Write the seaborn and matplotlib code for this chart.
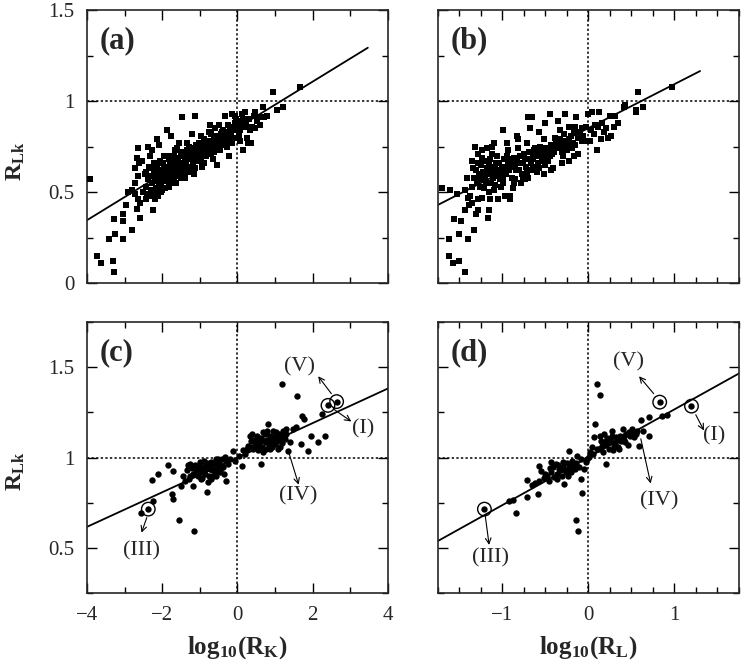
import numpy as np
import pandas as pd
import matplotlib
matplotlib.use("Agg")
import matplotlib.pyplot as plt
import seaborn as sns
from matplotlib.ticker import MultipleLocator, FixedLocator, FixedFormatter

# ---- data ---------------------------------------------------------------
# panel (a): log10(R_K) vs R_Lk, squares
a_pts = [
    (-3.93, 0.57), (-3.74, 0.15), (-3.64, 0.11), (-3.30, 0.12), (-3.28, 0.06), (-3.42, 0.24),
    (-3.26, 0.27), (-3.03, 0.24), (-2.81, 0.29), (-3.28, 0.35), (-3.05, 0.34), (-3.03, 0.38),
    (-2.97, 0.43), (-2.59, 0.36), (-2.68, 0.41), (-2.24, 0.40),
    (-2.90, 0.50), (-2.81, 0.51), (-2.73, 0.49), (-2.65, 0.46), (-2.59, 0.44), (-2.50, 0.50),
    (-2.42, 0.46), (-2.28, 0.48), (-2.19, 0.46), (-2.12, 0.48), (-2.04, 0.50), (-1.93, 0.52),
    (-2.73, 0.55), (-2.64, 0.59), (-2.71, 0.63), (-2.62, 0.66), (-2.68, 0.69), (-2.64, 0.74),
    (-2.37, 0.75), (-2.28, 0.73), (-2.09, 0.76), (-2.33, 0.70), (-2.53, 0.67), (-2.44, 0.61),
    (-2.35, 0.59), (-2.27, 0.63), (-2.22, 0.66), (-2.18, 0.59), (-2.13, 0.56), (-2.09, 0.53),
    (-2.00, 0.61), (-1.91, 0.64), (-1.87, 0.59), (-1.82, 0.68), (-1.73, 0.64), (-1.69, 0.70),
    (-1.65, 0.73), (-1.60, 0.67), (-1.56, 0.63), (-1.47, 0.70), (-1.42, 0.64), (-1.38, 0.58),
    (-1.34, 0.73), (-1.29, 0.75), (-1.20, 0.71), (-1.16, 0.67), (-1.12, 0.63), (-1.07, 0.74),
    (-1.03, 0.77), (-0.98, 0.81), (-0.94, 0.72), (-0.89, 0.66), (-0.85, 0.74), (-0.81, 0.78),
    (-0.76, 0.83), (-0.72, 0.87), (-0.67, 0.74), (-0.63, 0.72), (-0.58, 0.81), (-0.54, 0.65),
    (-0.50, 0.87), (-0.45, 0.77), (-0.41, 0.83), (-0.36, 0.79), (-0.32, 0.92), (-0.27, 0.75),
    (-0.23, 0.70), (-0.19, 0.85), (-0.14, 0.93), (-0.10, 0.80), (-0.05, 0.88), (0.04, 0.86),
    (0.08, 0.78), (0.12, 0.93), (0.17, 0.86), (0.21, 0.94), (0.26, 0.80), (0.30, 0.90),
    (0.35, 0.77), (0.39, 0.86), (0.43, 0.92), (0.48, 0.85), (0.57, 0.91), (0.70, 0.91),
    (0.68, 0.97), (0.96, 1.05), (1.06, 0.95), (1.21, 0.97), (-1.47, 0.91), (-1.12, 0.92),
    (-1.77, 0.81), (-1.88, 0.84), (-1.22, 0.82), (-2.15, 0.79), (1.66, 1.08),
    (0.15, 0.73), (0.28, 0.77), (0.41, 0.85), (0.04, 0.81), (-0.07, 0.92), (0.20, 0.94),
    (0.47, 0.94), (0.62, 0.91), (0.78, 0.92),
    (-2.42, 0.53), (-2.38, 0.57), (-2.45, 0.60), (-2.31, 0.51), (-2.26, 0.55), (-2.34, 0.64),
    (-2.21, 0.62), (-2.16, 0.52), (-2.11, 0.57), (-2.14, 0.65), (-2.06, 0.60), (-2.02, 0.55),
    (-1.98, 0.66), (-1.96, 0.58), (-1.94, 0.70), (-1.89, 0.56), (-1.85, 0.62), (-1.80, 0.65),
    (-1.78, 0.58), (-1.76, 0.61), (-1.71, 0.67), (-1.67, 0.60), (-1.63, 0.64), (-1.58, 0.69),
    (-1.55, 0.61), (-1.52, 0.66), (-1.49, 0.72), (-1.45, 0.62), (-1.40, 0.68), (-1.37, 0.66),
    (-1.33, 0.70), (-1.30, 0.64), (-1.27, 0.68), (-1.24, 0.72), (-1.19, 0.66), (-1.15, 0.74),
    (-1.10, 0.69), (-1.06, 0.71), (-1.02, 0.67), (-0.99, 0.74), (-0.96, 0.69), (-0.92, 0.76),
    (-0.88, 0.72), (-0.84, 0.70), (-0.80, 0.75), (-0.77, 0.73), (-0.73, 0.78), (-0.70, 0.71),
    (-0.66, 0.77), (-0.62, 0.80), (-0.59, 0.75), (-0.56, 0.78), (-0.52, 0.74), (-0.48, 0.80),
    (-0.44, 0.82), (-0.40, 0.76), (-0.37, 0.84), (-0.33, 0.80), (-0.29, 0.83), (-0.25, 0.87),
    (-0.21, 0.79), (-0.17, 0.82), (-0.12, 0.86), (-0.08, 0.84), (-0.03, 0.90), (0.02, 0.89),
    (0.07, 0.84), (0.11, 0.88), (0.16, 0.90), (0.23, 0.87), (0.33, 0.84), (0.52, 0.89),
    (0.60, 0.87),
    (-2.40, 0.49), (-2.30, 0.59), (-2.20, 0.50), (-2.10, 0.62), (-2.00, 0.51), (-1.90, 0.60),
    (-1.83, 0.53), (-1.75, 0.55), (-1.68, 0.57), (-1.62, 0.55), (-1.57, 0.59), (-1.50, 0.58),
    (-1.43, 0.60), (-1.35, 0.62), (-1.25, 0.61), (-1.70, 0.62), (-1.95, 0.63), (-2.05, 0.67),
    (-1.80, 0.70), (-1.60, 0.74), (-1.55, 0.77), (-1.35, 0.77), (-1.10, 0.76), (-0.90, 0.79),
    (-0.70, 0.82), (-0.60, 0.85), (-0.45, 0.73), (-0.30, 0.76), (-0.15, 0.77), (-0.65, 0.68),
    (-0.95, 0.64), (-1.15, 0.60),
]

# panel (b): log10(R_L) vs R_Lk, squares
b_pts = [
    (-1.62, 0.15), (-1.57, 0.11), (-1.51, 0.12), (-1.44, 0.06), (-1.62, 0.24), (-1.50, 0.27),
    (-1.40, 0.24), (-1.33, 0.29), (-1.56, 0.35), (-1.48, 0.34), (-1.43, 0.40), (-1.39, 0.43),
    (-1.31, 0.38), (-1.16, 0.40), (-1.17, 0.36), (-1.29, 0.40),
    (-1.70, 0.52), (-1.61, 0.51), (-1.53, 0.49), (-1.44, 0.51), (-1.40, 0.47), (-1.36, 0.44),
    (-1.38, 0.48), (-1.28, 0.46), (-1.24, 0.47), (-1.16, 0.50), (-1.14, 0.46), (-1.10, 0.51),
    (-1.05, 0.46), (-0.97, 0.48), (-0.91, 0.46), (-1.41, 0.575), (-1.34, 0.63), (-1.36, 0.67),
    (-1.32, 0.75), (-1.24, 0.73), (-1.18, 0.74), (-1.10, 0.77), (-0.99, 0.84), (-0.83, 0.81),
    (-0.70, 0.91), (-0.66, 0.91), (-0.45, 0.93), (-0.27, 0.93), (-0.14, 0.91), (0.00, 0.93),
    (0.04, 0.94), (0.12, 0.94), (0.25, 0.92), (0.31, 0.92), (0.43, 0.98), (0.58, 1.05),
    (0.56, 0.95), (0.64, 0.97), (0.23, 0.80), (0.26, 0.81), (0.15, 0.79), (0.10, 0.73),
    (0.02, 0.78), (-0.08, 0.78), (-0.17, 0.70), (-0.31, 0.66), (-0.43, 0.62), (-0.52, 0.60),
    (-0.64, 0.64), (-0.76, 0.575), (-0.87, 0.55), (-0.91, 0.48), (0.97, 1.08), (0.41, 0.97),
    (0.55, 0.94),
    (-1.12, 0.75), (-0.82, 0.79), (-0.68, 0.85), (-0.58, 0.83), (-0.50, 0.88), (-0.35, 0.89),
    (-0.33, 0.84), (-0.23, 0.86), (-0.17, 0.83), (-0.08, 0.85), (0.08, 0.87), (0.16, 0.88),
    (0.21, 0.85), (-0.12, 0.71), (-0.19, 0.74), (-0.23, 0.67), (-0.29, 0.70), (-0.41, 0.63),
    (-0.50, 0.65),
    (-1.30, 0.55), (-1.27, 0.60), (-1.25, 0.65), (-1.22, 0.52), (-1.20, 0.58), (-1.18, 0.63),
    (-1.15, 0.68), (-1.13, 0.55), (-1.10, 0.61), (-1.08, 0.66), (-1.06, 0.70), (-1.03, 0.57),
    (-1.00, 0.63), (-0.98, 0.68), (-0.96, 0.60), (-0.93, 0.73), (-0.91, 0.65), (-0.89, 0.58),
    (-0.86, 0.69), (-0.84, 0.62), (-0.82, 0.74), (-0.80, 0.66), (-0.77, 0.60), (-0.75, 0.71),
    (-0.73, 0.64), (-0.71, 0.77), (-0.68, 0.68), (-0.66, 0.62), (-0.63, 0.73), (-0.61, 0.70),
    (-0.59, 0.66), (-0.56, 0.75), (-0.54, 0.69), (-0.52, 0.79), (-0.49, 0.72), (-0.47, 0.67),
    (-0.44, 0.76), (-0.42, 0.71), (-0.39, 0.80), (-0.37, 0.74), (-0.34, 0.77), (-0.31, 0.72),
    (-0.28, 0.82), (-0.26, 0.76), (-0.23, 0.79), (-0.20, 0.81), (-0.18, 0.77), (-0.15, 0.86),
    (-0.12, 0.80), (-0.10, 0.83), (-0.06, 0.81), (-0.03, 0.86), (0.03, 0.84), (0.07, 0.82),
    (0.11, 0.86), (0.18, 0.83), (0.30, 0.86), (0.35, 0.88), (-1.24, 0.69), (-1.12, 0.71),
    (-1.02, 0.53), (-0.95, 0.77), (-0.88, 0.52), (-0.78, 0.55), (-0.70, 0.58), (-0.60, 0.61),
    (-0.57, 0.63), (-1.28, 0.71), (-1.16, 0.65), (-1.05, 0.62), (-0.94, 0.67), (-0.85, 0.65),
    (-0.74, 0.68), (-0.65, 0.70), (-0.55, 0.72), (-0.45, 0.70), (-0.35, 0.74), (-0.25, 0.73),
    (-0.15, 0.76), (-0.05, 0.78),
    (-1.33, 0.58), (-1.31, 0.62), (-1.29, 0.66), (-1.26, 0.57), (-1.23, 0.61), (-1.21, 0.67),
    (-1.19, 0.55), (-1.17, 0.60), (-1.14, 0.63), (-1.11, 0.58), (-1.09, 0.64), (-1.07, 0.59),
    (-1.04, 0.66), (-1.01, 0.60), (-0.99, 0.58), (-0.97, 0.64), (-0.95, 0.70), (-0.92, 0.62),
    (-0.90, 0.68), (-0.87, 0.64), (-0.83, 0.67), (-0.81, 0.62), (-0.79, 0.70), (-0.76, 0.66),
    (-0.72, 0.61), (-0.69, 0.72), (-0.67, 0.66), (-0.64, 0.68), (-0.62, 0.74), (-0.58, 0.71),
    (-0.53, 0.67), (-0.51, 0.74), (-0.48, 0.69), (-0.43, 0.74), (-0.40, 0.72), (-0.38, 0.77),
    (-0.33, 0.79), (-0.30, 0.75), (-0.27, 0.78), (-0.21, 0.76), (-1.35, 0.53), (-1.26, 0.53),
    (-1.09, 0.54), (-0.99, 0.55), (-0.85, 0.57), (-0.74, 0.57),
]

# panel (c): log10(R_K) vs R_Lk, dots
c_pts = [
    (-2.57, 0.696), (-2.37, 0.715), (-2.24, 0.761), (-2.28, 0.876), (-2.10, 0.909), (-1.84, 0.961),
    (-1.71, 0.928), (-1.75, 0.798), (-1.71, 0.770), (-1.55, 0.656), (-1.16, 0.594), (-1.51, 0.844),
    (-1.39, 0.872), (-1.26, 0.900), (-1.26, 0.965), (-1.17, 0.844), (-1.08, 0.946), (-1.00, 0.974),
    (-0.95, 0.919), (-0.86, 0.956), (-0.80, 0.811), (-0.78, 0.863), (-0.73, 0.937), (-0.69, 0.974),
    (-0.64, 0.900), (-0.55, 0.946), (-0.51, 0.993), (-0.47, 0.919), (-0.42, 0.956), (-0.33, 1.002),
    (-0.31, 0.872), (-0.24, 0.965), (-0.11, 1.039), (-0.07, 0.983), (0.11, 0.956), (0.20, 1.020),
    (0.29, 1.067), (0.33, 1.122), (0.42, 1.048), (0.47, 1.085), (0.55, 1.104), (0.60, 1.057),
    (0.64, 0.965), (0.69, 1.030), (0.78, 1.150), (0.78, 1.085), (0.82, 1.187), (0.86, 1.048),
    (0.95, 1.113), (1.00, 1.076), (1.04, 1.141), (1.13, 1.057), (1.22, 1.150), (1.26, 1.104),
    (1.29, 1.159), (1.35, 1.039), (1.40, 1.085), (1.48, 1.159), (1.57, 1.169), (1.70, 1.076),
    (1.88, 1.039), (1.97, 1.122), (2.15, 1.085), (2.32, 1.122), (1.20, 1.406), (1.59, 1.340),
    (1.73, 1.233), (1.77, 1.215), (2.24, 1.243), (2.41, 1.289), (2.64, 1.310),
    (-1.45, 0.90), (-1.35, 0.93), (-1.30, 0.88), (-1.22, 0.94), (-1.18, 0.91), (-1.12, 0.96),
    (-1.05, 0.90), (-1.02, 0.93), (-0.97, 0.95), (-0.93, 0.89), (-0.90, 0.93), (-0.85, 0.91),
    (-0.82, 0.97), (-0.79, 0.94), (-0.75, 0.90), (-0.71, 0.96), (-0.67, 0.93), (-0.62, 0.97),
    (-0.60, 0.92), (-0.57, 0.99), (-0.53, 0.95), (-0.49, 0.97), (-0.45, 0.93), (-0.40, 0.99),
    (-0.38, 0.95), (-0.29, 0.98), (-0.20, 0.99), (-0.88, 0.98), (-0.98, 0.88), (-1.10, 0.92),
    (-0.70, 0.88), (-0.58, 0.90), (-1.32, 0.96), (-0.36, 0.91),
    (0.35, 1.09), (0.40, 1.06), (0.45, 1.10), (0.50, 1.07), (0.52, 1.12), (0.57, 1.08),
    (0.62, 1.11), (0.66, 1.06), (0.70, 1.09), (0.73, 1.13), (0.75, 1.05), (0.80, 1.10),
    (0.84, 1.07), (0.88, 1.12), (0.90, 1.09), (0.93, 1.06), (0.98, 1.10), (1.02, 1.12),
    (1.06, 1.09), (1.10, 1.13), (1.15, 1.11), (1.18, 1.08), (1.24, 1.12), (1.30, 1.13),
    (0.55, 1.04), (0.68, 1.14), (0.95, 1.15), (1.08, 1.05), (0.38, 1.13), (0.25, 1.05),
    (0.15, 1.04), (0.05, 1.01),
]

# panel (d): log10(R_L) vs R_Lk, dots
d_pts = [
    (0.10, 1.406), (0.14, 1.344), (0.83, 1.307), (1.20, 1.285), (-1.21, 0.715), (-0.92, 0.761),
    (-0.88, 0.765), (-0.84, 0.696), (-0.71, 0.780), (-0.59, 0.800), (-0.71, 0.878), (-0.57, 0.956),
    (-0.55, 0.928), (-0.50, 0.909), (-0.44, 0.974), (-0.46, 0.872), (-0.40, 0.891), (-0.38, 0.965),
    (-0.34, 0.937), (-0.30, 0.974), (-0.28, 0.854), (-0.26, 0.919), (-0.22, 1.039), (-0.21, 0.956),
    (-0.19, 0.983), (-0.15, 0.937), (-0.13, 1.011), (-0.09, 0.881), (-0.07, 0.807), (-0.14, 0.656),
    (-0.12, 0.594), (-0.05, 0.937), (-0.03, 0.974), (0.01, 1.002), (0.05, 1.020), (0.08, 1.187),
    (0.07, 1.113), (0.10, 1.048), (0.14, 1.122), (0.16, 1.067), (0.20, 0.965), (0.20, 1.094),
    (0.24, 1.085), (0.28, 1.150), (0.30, 1.067), (0.32, 1.113), (0.36, 1.048), (0.40, 1.159),
    (0.41, 1.122), (0.43, 1.085), (0.47, 1.141), (0.51, 1.159), (0.53, 1.113), (0.55, 1.130),
    (0.59, 1.067), (0.61, 1.206), (0.63, 1.150), (0.71, 1.224), (0.71, 1.122), (0.86, 1.233),
    (0.92, 1.237),
    (-0.48, 0.90), (-0.43, 0.92), (-0.41, 0.95), (-0.37, 0.91), (-0.35, 0.96), (-0.33, 0.93),
    (-0.31, 0.90), (-0.29, 0.95), (-0.27, 0.93), (-0.25, 0.97), (-0.24, 0.90), (-0.22, 0.94),
    (-0.20, 0.92), (-0.18, 0.96), (-0.17, 0.94), (-0.14, 0.97), (-0.11, 0.95), (-0.09, 0.99),
    (-0.36, 0.88), (-0.52, 0.89), (-0.62, 0.86), (-0.66, 0.85), (-0.57, 0.87), (-0.45, 0.94),
    (0.12, 1.05), (0.15, 1.09), (0.17, 1.03), (0.19, 1.07), (0.22, 1.11), (0.24, 1.05),
    (0.26, 1.09), (0.27, 1.12), (0.29, 1.04), (0.31, 1.08), (0.33, 1.10), (0.35, 1.06),
    (0.37, 1.12), (0.38, 1.09), (0.42, 1.10), (0.44, 1.13), (0.46, 1.07), (0.49, 1.12),
    (0.52, 1.14), (0.57, 1.15), (0.02, 1.03), (0.04, 1.06), (-0.02, 0.99), (0.18, 1.13),
]

# fitted straight lines (end points)
fit_a = ([-4.0, 3.47], [0.346, 1.293])
fit_b = ([-1.75, 1.30], [0.430, 1.165])
fit_c = ([-4.0, 4.0], [0.617, 1.382])
fit_d = ([-1.75, 1.75], [0.539, 1.465])

# circled systems
c_marked = [(-2.37, 0.715), (2.41, 1.289), (2.64, 1.310)]
d_marked = [(-1.21, 0.715), (1.20, 1.285), (0.83, 1.307)]

# labels: text, text position, arrow start, arrow end
c_notes = [
    ("(V)", (1.66, 1.50), (2.50, 1.354), (2.15, 1.45)),
    ("(I)", (3.34, 1.16), (2.55, 1.27), (3.03, 1.20)),
    ("(IV)", (1.62, 0.79), (1.38, 1.02), (1.63, 0.85)),
    ("(III)", (-2.55, 0.483), (-2.41, 0.668), (-2.55, 0.585)),
]
d_notes = [
    ("(V)", (0.47, 1.53), (0.76, 1.354), (0.59, 1.45)),
    ("(I)", (1.46, 1.122), (1.25, 1.237), (1.345, 1.15)),
    ("(IV)", (0.82, 0.76), (0.61, 1.104), (0.725, 0.857)),
    ("(III)", (-1.135, 0.446), (-1.20, 0.678), (-1.155, 0.517)),
]

# ---- style --------------------------------------------------------------
sns.set_theme(style="ticks")
plt.rcParams["font.family"] = ["Liberation Serif", "DejaVu Serif"]
plt.rcParams["mathtext.fontset"] = "custom"
plt.rcParams["mathtext.rm"] = "Liberation Serif"
plt.rcParams["mathtext.bf"] = "Liberation Serif:bold"
plt.rcParams["axes.linewidth"] = 1.2

fig = plt.figure(figsize=(7.5, 6.71), dpi=100)
ax_a = fig.add_axes([0.116, 0.578, 0.401, 0.407])
ax_b = fig.add_axes([0.584, 0.578, 0.401, 0.407])
ax_c = fig.add_axes([0.116, 0.116, 0.401, 0.404])
ax_d = fig.add_axes([0.584, 0.116, 0.401, 0.404])

panels = [
    (ax_a, a_pts, fit_a, "s", 17, "(a)"),
    (ax_b, b_pts, fit_b, "s", 17, "(b)"),
    (ax_c, c_pts, fit_c, "o", 21, "(c)"),
    (ax_d, d_pts, fit_d, "o", 21, "(d)"),
]

for ax, pts, fit, mk, size, tag in panels:
    df = pd.DataFrame(pts, columns=["x", "y"])
    ax.axhline(1.0, color="black", lw=1.1, ls=(0, (1.5, 1.5)), zorder=1)
    ax.axvline(0.0, color="black", lw=1.1, ls=(0, (1.5, 1.5)), zorder=1)
    sns.lineplot(x=fit[0], y=fit[1], color="black", lw=1.3, ax=ax, zorder=2)
    sns.scatterplot(data=df, x="x", y="y", marker=mk, s=size, color="black",
                    linewidth=0, ax=ax, zorder=3, legend=False)
    ax.text(0.043, 0.886, tag, transform=ax.transAxes, fontsize=22,
            fontweight="bold", ha="left", va="center")
    ax.set_xlabel("")
    ax.set_ylabel("")
    ax.tick_params(which="both", direction="in", top=True, right=True,
                   labelsize=15, pad=9, width=1.0, color="black")
    ax.tick_params(which="major", length=7)
    ax.tick_params(which="minor", length=4)

# x axes
for ax in (ax_a, ax_c):
    ax.set_xlim(-4, 4)
    ax.xaxis.set_major_locator(FixedLocator([-4, -2, 0, 2, 4]))
    ax.xaxis.set_minor_locator(MultipleLocator(1))
for ax in (ax_b, ax_d):
    ax.set_xlim(-1.75, 1.75)
    ax.xaxis.set_major_locator(FixedLocator([-1, 0, 1]))
    ax.xaxis.set_minor_locator(MultipleLocator(0.25))

# y axes
for ax in (ax_a, ax_b):
    ax.set_ylim(0, 1.5)
    ax.yaxis.set_major_locator(FixedLocator([0, 0.5, 1, 1.5]))
    ax.yaxis.set_major_formatter(FixedFormatter(["0", "0.5", "1", "1.5"]))
    ax.yaxis.set_minor_locator(MultipleLocator(0.25))
    ax.tick_params(labelbottom=False)
for ax in (ax_c, ax_d):
    ax.set_ylim(0.25, 1.75)
    ax.yaxis.set_major_locator(FixedLocator([0.5, 1, 1.5]))
    ax.yaxis.set_major_formatter(FixedFormatter(["0.5", "1", "1.5"]))
    ax.yaxis.set_minor_locator(MultipleLocator(0.25))
for ax in (ax_b, ax_d):
    ax.tick_params(labelleft=False)

# axis labels
for ax, ypos in ((ax_a, 0.447), (ax_c, 0.45)):
    ax.set_ylabel(r"$\mathbf{R_{Lk}}$", fontsize=17)
    ax.yaxis.set_label_coords(-0.2, ypos)
ax_c.set_xlabel(r"$\mathbf{log_{10}(R_K)}$", fontsize=18)
ax_d.set_xlabel(r"$\mathbf{log_{10}(R_L)}$", fontsize=18)
for ax in (ax_c, ax_d):
    ax.xaxis.set_label_coords(0.5, -0.15)

# circled systems and their labels
for ax, marked, notes in ((ax_c, c_marked, c_notes), (ax_d, d_marked, d_notes)):
    mdf = pd.DataFrame(marked, columns=["x", "y"])
    sns.scatterplot(data=mdf, x="x", y="y", marker="o", s=95, facecolor="none",
                    edgecolor="black", linewidth=1.0, ax=ax, zorder=4, legend=False)
    for label, txt_pos, a_start, a_end in notes:
        ax.text(txt_pos[0], txt_pos[1], label, fontsize=16, ha="center", va="center")
        ax.annotate("", xy=a_end, xytext=a_start,
                    arrowprops=dict(arrowstyle="->", lw=0.8, color="black",
                                    shrinkA=0, shrinkB=0, mutation_scale=10))

fig.savefig("out.png", dpi=100)
